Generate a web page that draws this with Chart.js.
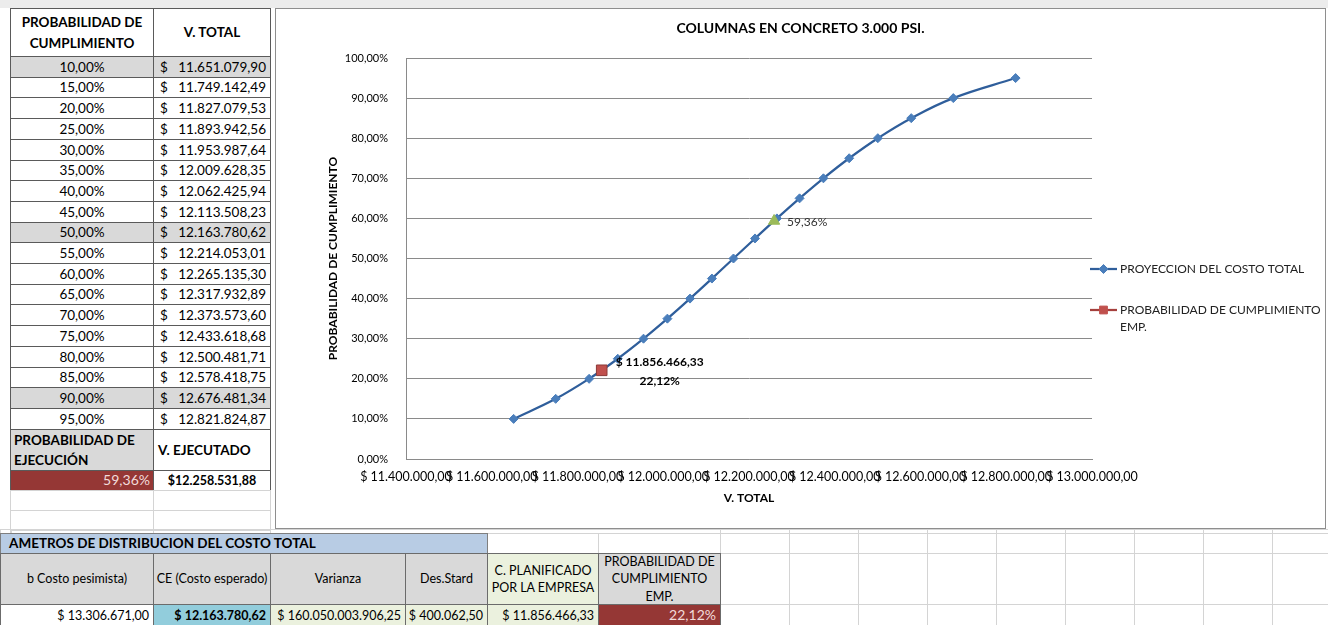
<!DOCTYPE html>
<html>
<head>
<meta charset="utf-8">
<script src="https://cdn.jsdelivr.net/npm/chart.js@4.4.0/dist/chart.umd.min.js"></script>
<style>
  body { margin: 0; width: 1328px; height: 625px; overflow: hidden; background: #fff; position: relative; font-family: Lato, "Open Sans", sans-serif; }
  .c { position: absolute; box-sizing: border-box; font-size: 13.5px; color: #000; white-space: nowrap; overflow: hidden; display: flex; align-items: center; line-height: 1.2; }
  .c span { display: block; }
  #strip { position: absolute; left: 0; top: 0; width: 1328px; height: 8px; background: #ececec; }
  #box { position: absolute; left: 275px; top: 8px; width: 1051px; height: 521px; box-sizing: border-box; border: 1px solid #8e8e8e; background: #fff; }
  #chart { display: block; }
</style>
</head>
<body>
<div id="strip"></div>
<div id="box"><canvas id="chart" width="1049" height="519"></canvas></div>
<script>
// ---- data ----
const probLevels = [0.10, 0.15, 0.20, 0.25, 0.30, 0.35, 0.40, 0.45, 0.50,
                    0.55, 0.60, 0.65, 0.70, 0.75, 0.80, 0.85, 0.90, 0.95];
const vTotal = [11651079.90, 11749142.49, 11827079.53, 11893942.56, 11953987.64,
                12009628.35, 12062425.94, 12113508.23, 12163780.62, 12214053.01,
                12265135.30, 12317932.89, 12373573.60, 12433618.68, 12500481.71,
                12578418.75, 12676481.34, 12821824.87];
const empCost = [11856466.33];   // C. planificado por la empresa
const empProb = [0.2212];
const execCost = [12258531.88];  // V. ejecutado
const execProb = [0.5936];
const xMin = 11400000, xMax = 13000000, xStep = 200000;
const yMin = 0, yMax = 1, yStep = 0.1;
const distHeaders = ['b Costo pesimista)', 'CE (Costo esperado)', 'Varianza', 'Des.Stard',
                     'C. PLANIFICADO<br>POR LA EMPRESA', 'PROBABILIDAD DE<br>CUMPLIMIENTO<br>EMP.'];
const distValues = [13306671.00, 12163780.62, 160050003906.25, 400062.50, 11856466.33];

const chartTitle = 'COLUMNAS EN CONCRETO 3.000 PSI.';
const lineBlue = '#2f5e9b', markerBlue = '#4a7ebb', empRed = '#c0504d', execGreen = '#9bbb59';

function money(v) {
  const p = v.toFixed(2).split('.');
  return p[0].replace(/\B(?=(\d{3})+(?!\d))/g, '.') + ',' + p[1];
}
function pct(v) {
  return (v * 100).toFixed(2).replace('.', ',') + '%';
}

// ---- spreadsheet cells ----
function cell(x, y, w, h, html, o) {
  o = o || {};
  const d = document.createElement('div');
  d.className = 'c';
  d.style.left = x + 'px'; d.style.top = y + 'px';
  d.style.width = w + 'px'; d.style.height = h + 'px';
  d.style.border = '1px solid ' + (o.bc || '#5a5a5a');
  d.style.padding = o.pad || '0 5px';
  if (o.bg) d.style.background = o.bg;
  const al = o.align || 'center';
  const pos = al === 'left' ? 'flex-start' : al === 'right' ? 'flex-end' : 'center';
  if (o.lines) {
    d.style.flexDirection = 'column';
    d.style.justifyContent = 'center';
    d.style.alignItems = pos;
    html = html.split('<br>').map(t => '<span>' + t + '</span>').join('');
  } else {
    d.style.justifyContent = al === 'between' ? 'space-between' : pos;
  }
  d.style.textAlign = al === 'between' ? 'left' : al;
  if (o.bold) d.style.fontWeight = 'bold';
  if (o.color) d.style.color = o.color;
  if (o.fs) d.style.fontSize = o.fs + 'px';
  if (o.lh) d.style.lineHeight = o.lh + 'px';
  d.innerHTML = html;
  document.body.appendChild(d);
}
const grid = { bc: '#d4d4d4' };

// light sheet grid on the right of the lower table
const gridCols = [720, 789, 858, 927, 996, 1065, 1134, 1203, 1272, 1341];
[[529, 5], [533, 21], [553, 52], [604, 22]].forEach(r => {
  for (let i = 0; i < gridCols.length - 1; i++) cell(gridCols[i], r[0], gridCols[i + 1] - gridCols[i] + 1, r[1], '', grid);
});
cell(0, 529, 11, 5, '', grid);
cell(10, 529, 144, 5, '', grid);
cell(153, 529, 118, 5, '', grid);
cell(270, 529, 451, 5, '', grid);

// left table
cell(10, 8, 144, 49, 'PROBABILIDAD DE<br>CUMPLIMIENTO', { bold: true, lh: 21, pad: 0, lines: true });
cell(153, 8, 118, 49, 'V. TOTAL', { bold: true });
const shaded = [0, 8, 16];
probLevels.forEach((p, i) => {
  const top = Math.round(56 + 20.7 * i);
  const h = Math.round(56 + 20.7 * (i + 1)) - top + 1;
  const bg = shaded.includes(i) ? '#d9d9d9' : null;
  cell(10, top, 144, h, pct(p), { bg: bg });
  cell(153, top, 118, h, '<span>$</span><span>' + money(vTotal[i]) + '</span>', { bg: bg, align: 'between', pad: '0 4px 0 6px' });
});
cell(10, 429, 144, 42, 'PROBABILIDAD DE<br>EJECUCIÓN', { bold: true, bg: '#d9d9d9', align: 'left', lh: 20, pad: '0 3px', lines: true });
cell(153, 429, 118, 42, 'V. EJECUTADO', { bold: true, align: 'left', pad: '0 4px' });
cell(10, 470, 144, 21, pct(execProb[0]), { bg: '#953735', color: '#f2dcdb', align: 'right', pad: '0 3px', fs: 14 });
cell(153, 470, 118, 21, '$' + money(execCost[0]), { bold: true, fs: 12.5 });
cell(10, 490, 144, 21, '', grid);
cell(153, 490, 118, 21, '', grid);
cell(10, 510, 144, 21, '', grid);
cell(153, 510, 118, 21, '', grid);

// lower table: distribution parameters
const distCols = [0, 153, 270, 405, 487, 598, 720];
cell(487, 533, 112, 21, '', grid);
cell(598, 533, 123, 21, '', grid);
cell(0, 533, 488, 21, 'AMETROS DE DISTRIBUCION DEL COSTO TOTAL', { bold: true, bg: '#b8cce4', align: 'left', pad: '0 8px', bc: '#7f7f7f' });
const headBg = ['#d9d9d9', '#d9d9d9', '#d9d9d9', '#d9d9d9', '#ebf1de', '#d9d9d9'];
const valBg = ['#ffffff', '#92cddc', '#ebf1de', '#ebf1de', '#ebf1de', '#953735'];
distHeaders.forEach((t, i) => {
  const x = distCols[i], w = distCols[i + 1] - x + 1;
  cell(x, 553, w, 52, t, { bg: headBg[i], fs: 12.5, lh: 17.5, pad: '0 2px', bc: '#6b6b6b', lines: true });
});
distValues.forEach((v, i) => {
  const x = distCols[i], w = distCols[i + 1] - x + 1;
  cell(x, 604, w, 22, '$ ' + money(v), { bg: valBg[i], align: 'right', fs: 12.5, bold: i === 1, pad: '0 4px', bc: '#6b6b6b' });
});
cell(598, 604, 123, 22, pct(empProb[0]), { bg: valBg[5], color: '#f2dcdb', align: 'right', fs: 14, pad: '0 4px', bc: '#6b6b6b' });

// ---- chart ----
const overlay = {
  id: 'overlay',
  afterDraw(chart) {
    const ctx = chart.ctx, a = chart.chartArea;
    ctx.save();
    ctx.fillStyle = '#000';
    ctx.textAlign = 'center';
    ctx.textBaseline = 'middle';
    ctx.font = 'bold 14px Lato';
    ctx.fillText(chartTitle, chart.width / 2, 19);

    // label of the company's planned cost
    const pe = chart.getDatasetMeta(1).data[0];
    ctx.font = 'bold 12px Lato';
    ctx.fillText('$ ' + money(empCost[0]), pe.x + 58, pe.y - 8);
    ctx.fillText(pct(empProb[0]), pe.x + 58, pe.y + 11);

    // label of the executed value
    const px = chart.getDatasetMeta(2).data[0];
    ctx.font = '12px Lato';
    ctx.fillStyle = '#333';
    ctx.textAlign = 'left';
    ctx.fillText(pct(execProb[0]), px.x + 13, px.y + 1);

    // legend
    const lx = a.right - 2;
    const rows = [
      { y: a.top + 211, color: lineBlue, fill: markerBlue, style: 'rectRot', r: 4.5, text: [chart.data.datasets[0].label] },
      { y: a.top + 252, color: '#a5403d', fill: empRed, style: 'rect', r: 5.5, text: ['PROBABILIDAD DE CUMPLIMIENTO', 'EMP.'] }
    ];
    rows.forEach(r => {
      ctx.strokeStyle = r.color;
      ctx.lineWidth = 2.25;
      ctx.beginPath();
      ctx.moveTo(lx, r.y);
      ctx.lineTo(lx + 27, r.y);
      ctx.stroke();
      ctx.fillStyle = r.fill;
      ctx.strokeStyle = r.fill;
      ctx.lineWidth = 1;
      Chart.helpers.drawPoint(ctx, { pointStyle: r.style, radius: r.r, borderWidth: 1 }, lx + 13.5, r.y);
      ctx.fillStyle = '#222';
      ctx.font = '12px Lato';
      ctx.textAlign = 'left';
      r.text.forEach((t, k) => ctx.fillText(t, lx + 30, r.y + k * 17));
    });
    ctx.restore();
  }
};

new Chart(document.getElementById('chart'), {
  type: 'scatter',
  data: {
    datasets: [
      {
        label: 'PROYECCION DEL COSTO TOTAL',
        data: vTotal.map((v, i) => ({ x: v, y: probLevels[i] })),
        order: 2,
        showLine: true,
        tension: 0.4,
        borderColor: lineBlue,
        borderWidth: 2.25,
        pointStyle: 'rectRot',
        pointRadius: 4.5,
        pointBackgroundColor: markerBlue,
        pointBorderColor: markerBlue,
        pointBorderWidth: 1
      },
      {
        label: 'PROBABILIDAD DE CUMPLIMIENTO EMP.',
        data: empCost.map((v, i) => ({ x: v, y: empProb[i] })),
        order: 1,
        pointStyle: 'rect',
        pointRadius: 7.5,
        pointBackgroundColor: empRed,
        pointBorderColor: '#8c3a38',
        pointBorderWidth: 1
      },
      {
        label: 'PROBABILIDAD DE EJECUCIÓN',
        data: execCost.map((v, i) => ({ x: v, y: execProb[i] })),
        order: 0,
        pointStyle: 'triangle',
        pointRadius: 6.5,
        pointBackgroundColor: execGreen,
        pointBorderColor: execGreen,
        pointBorderWidth: 1
      }
    ]
  },
  options: {
    responsive: false,
    animation: false,
    layout: { padding: { top: 49, right: 233, bottom: 19, left: 0 } },
    plugins: {
      legend: { display: false },
      tooltip: { enabled: false },
      title: { display: false }
    },
    scales: {
      x: {
        type: 'linear',
        min: xMin, max: xMax,
        ticks: {
          stepSize: xStep, autoSkip: false, maxRotation: 0, minRotation: 0, padding: 10,
          color: '#000', font: { family: 'Lato', size: 12.5 },
          callback: v => '$ ' + money(v)
        },
        grid: { display: false, drawTicks: false },
        border: { color: '#8a8a8a' },
        title: { display: true, text: 'V. TOTAL', color: '#000', font: { family: 'Lato', size: 12, weight: 'bold' }, padding: { top: 4, bottom: 4 } },
        afterFit: s => { s.height = 50; }
      },
      y: {
        min: yMin, max: yMax,
        ticks: {
          stepSize: yStep, padding: 18,
          color: '#000', font: { family: 'Lato', size: 11 },
          callback: v => pct(v)
        },
        grid: { color: '#8a8a8a', drawTicks: false },
        border: { color: '#8a8a8a' },
        title: { display: true, text: 'PROBABILIDAD DE CUMPLIMIENTO', color: '#000', font: { family: 'Lato', size: 12, weight: 'bold' }, padding: { top: 50, bottom: 0 } },
        afterFit: s => { s.width = 130; }
      }
    }
  },
  plugins: [overlay]
});
</script>
</body>
</html>
